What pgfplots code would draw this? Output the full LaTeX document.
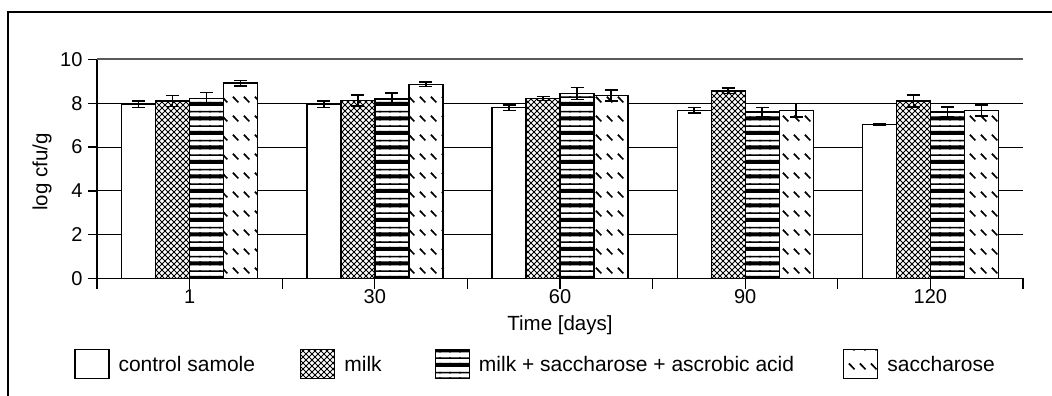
\documentclass[border=0pt]{standalone}
\usepackage{fontspec}
\setmainfont{Liberation Sans}
\usepackage{pgfplots}
\pgfplotsset{compat=1.18}
\usetikzlibrary{patterns}

\pgfdeclarepatternformonly{xhatch}{\pgfqpoint{-1bp}{-1bp}}{\pgfqpoint{7bp}{7bp}}{\pgfqpoint{6bp}{6bp}}{%
  \pgfsetlinewidth{0.95bp}%
  \pgfpathmoveto{\pgfqpoint{-0.5bp}{-0.5bp}}\pgfpathlineto{\pgfqpoint{6.5bp}{6.5bp}}%
  \pgfpathmoveto{\pgfqpoint{-0.5bp}{6.5bp}}\pgfpathlineto{\pgfqpoint{6.5bp}{-0.5bp}}%
  \pgfusepath{stroke}}
\pgfdeclarepatternformonly{hstripes}{\pgfqpoint{-1bp}{-1bp}}{\pgfqpoint{11bp}{15.5bp}}{\pgfqpoint{10bp}{14.5bp}}{%
  \pgfpathrectangle{\pgfqpoint{-1bp}{0bp}}{\pgfqpoint{12bp}{4bp}}%
  \pgfpathrectangle{\pgfqpoint{-1bp}{8bp}}{\pgfqpoint{12bp}{1.6bp}}%
  \pgfusepath{fill}}
\pgfdeclarepatternformonly{sacch}{\pgfqpoint{0bp}{0bp}}{\pgfqpoint{11bp}{19bp}}{\pgfqpoint{11bp}{19bp}}{%
  \pgfsetlinewidth{1.8bp}%
  \pgfpathmoveto{\pgfqpoint{2bp}{15bp}}\pgfpathlineto{\pgfqpoint{8bp}{9bp}}%
  \pgfusepath{stroke}}

\begin{document}
\begin{tikzpicture}
\useasboundingbox (0,0) rectangle (1052bp,396bp);
\draw[line width=1.6bp] (8bp,0bp) -- (8bp,384bp) -- (1052bp,384bp);
\begin{axis}[
  at={(97bp,117.5bp)}, anchor=south west,
  scale only axis, width=926bp, height=219bp,
  xmin=-0.5, xmax=4.5, ymin=0, ymax=10,
  axis lines*=left,
  axis line style={-, line width=1.6bp, black},
  tick align=outside,
  ytick={0,2,4,6,8},
  extra y ticks={10},
  extra y tick style={grid style={gray!70!black, line width=2bp}},
  ymajorgrids,
  grid style={black, line width=1bp},
  major tick length=9bp,
  tick style={black, line width=1.3bp},
  xtick={-0.5,0.5,...,4.5},
  xticklabels={},
  x tick style={/pgfplots/major tick length=10bp},
  extra x ticks={0,1,2,3,4},
  extra x tick labels={1,30,60,90,120},
  extra x tick style={major tick length=0pt, xticklabel style={yshift=-8bp}},
  /pgf/number format/assume math mode=true,
  tick label style={font=\fontsize{20bp}{23bp}\selectfont},
  yticklabel style={xshift=-2bp},
  xlabel={Time [days]},
  ylabel={log cfu/g},
  label style={font=\fontsize{20.5bp}{24bp}\selectfont},
  xlabel style={at={(axis description cs:0.5,-0.214)}, anchor=center},
  ylabel style={at={(axis description cs:-0.0594,0.486)}, anchor=center},
  ybar=0pt, bar width=34bp,
  error bars/y dir=both, error bars/y explicit,
  error bars/error bar style={line width=1.5bp, black},
  error bars/error mark options={rotate=90, mark size=6.5bp, line width=1.5bp, black},
  legend columns=4,
  legend style={draw=none, fill=none, at={(axis description cs:-0.0248,-0.3904)}, anchor=west,
    font=\fontsize{21bp}{25bp}\selectfont, inner sep=0pt,
    /tikz/every odd column/.append style={column sep=7bp},
    /tikz/column 2/.style={column sep=43bp},
    /tikz/column 4/.style={column sep=51bp},
    /tikz/column 6/.style={column sep=47bp}},
  legend image code/.code={\draw[#1, line width=1.3bp] (0bp,-14bp) rectangle (34bp,15bp);},
]
\addplot[draw=black, line width=1.4bp, fill=white] coordinates {
  (0,7.95) +- (0,0.15)
  (1,7.95) +- (0,0.15)
  (2,7.80) +- (0,0.12)
  (3,7.68) +- (0,0.12)
  (4,7.02) +- (0,0.04)
};
\addplot[draw=black, line width=1.4bp, fill=white, postaction={pattern=xhatch}] coordinates {
  (0,8.10) +- (0,0.25)
  (1,8.12) +- (0,0.25)
  (2,8.22) +- (0,0.10)
  (3,8.57) +- (0,0.12)
  (4,8.10) +- (0,0.28)
};
\addplot[draw=black, line width=1.4bp, fill=white, postaction={pattern=hstripes}] coordinates {
  (0,8.22) +- (0,0.27)
  (1,8.20) +- (0,0.27)
  (2,8.45) +- (0,0.28)
  (3,7.60) +- (0,0.20)
  (4,7.60) +- (0,0.22)
};
\addplot[draw=black, line width=1.4bp, fill=white, postaction={pattern=sacch}] coordinates {
  (0,8.92) +- (0,0.12)
  (1,8.87) +- (0,0.10)
  (2,8.35) +- (0,0.25)
  (3,7.68) +- (0,0.30)
  (4,7.68) +- (0,0.25)
};
\legend{control samole, milk, milk + saccharose + ascrobic acid, saccharose}
\end{axis}
\end{tikzpicture}
\end{document}
